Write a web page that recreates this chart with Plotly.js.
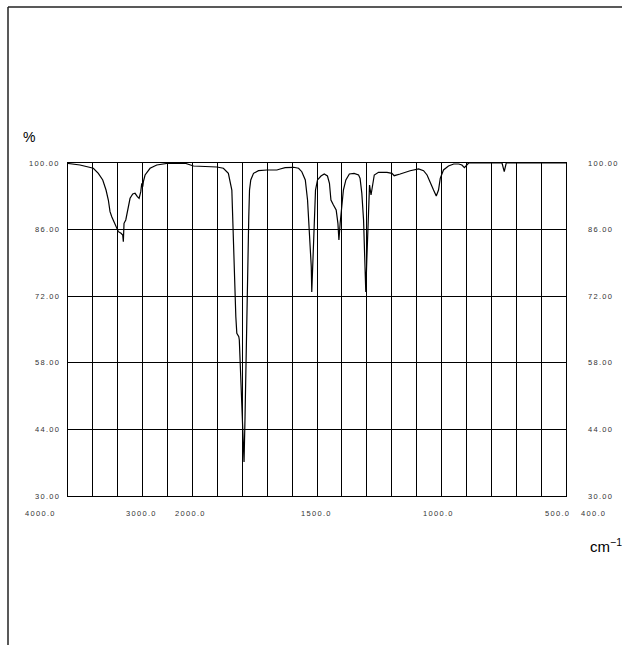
<!DOCTYPE html>
<html>
<head>
<meta charset="utf-8">
<script src="https://cdn.plot.ly/plotly-3.0.1.min.js"></script>
<style>html,body{margin:0;padding:0;background:#fff;}#chart{width:622px;height:645px;}</style>
</head>
<body>
<div id="chart"></div>
<script>
// Wavenumber (cm-1) and transmittance (%)
const wavenumber = [4000,3807,3593,3513,3442,3389,3352,3325,3297,3244,3191,3148,3121,3111,3100,3072,3040,3003,2960,2923,2886,2858,2831,2815,2799,2789,2762,2682,2574,2413,2119,1996,1949,1902,1876,1856,1842,1836,1832,1826,1822,1814,1812,1806,1798,1793,1789,1785,1779,1774,1771,1766,1755,1735,1701,1661,1648,1628,1594,1574,1561,1547,1538,1530,1523,1521,1517,1511,1506,1498,1484,1471,1458,1450,1444,1434,1423,1416,1412,1407,1400,1394,1384,1370,1351,1333,1327,1320,1313,1308,1304,1300,1293,1289,1283,1278,1270,1253,1219,1199,1190,1166,1126,1092,1072,1058,1045,1032,1021,1012,1005,992,972,951,931,918,908,900,891,757,748,740,500];
const transmittance = [99.9,99.58,98.89,97.83,96.43,94.32,92.22,89.76,88.71,86.97,85.56,85.22,84.86,83.46,87.32,88.02,90.12,92.58,93.48,93.63,92.92,92.58,93.97,95.73,95.02,96.07,97.48,98.89,99.58,99.9,99.95,99.37,99.26,99.16,98.89,97.83,94.32,85.22,74.71,67.69,64.2,63.49,62.79,53.69,43.18,37.15,46.67,60.69,78.2,88.71,94.32,96.43,97.83,98.38,98.53,98.53,98.74,99.01,99.1,98.89,98.17,96.43,92.22,85.22,78.2,72.88,78.2,88.71,94.32,96.43,97.27,97.69,97.27,95.73,92.22,91.17,90.12,87.32,83.81,87.32,91.53,94.32,96.43,97.69,97.83,97.48,96.78,93.63,88.02,79.61,72.88,79.61,91.53,95.38,93.27,95.38,97.48,98.04,98.04,97.83,97.33,97.69,98.38,98.74,98.38,97.48,96.07,94.32,93.06,94.32,96.78,98.53,99.37,99.79,99.79,99.58,99.01,99.58,100,100,98.17,100,100];

const xTickLabels = ["4000.0","3000.0","2000.0","1500.0","1000.0","500.0","400.0"];
const yTickValues = [30,44,58,72,86,100];
const yTickLabels = ["30.00","44.00","58.00","72.00","86.00","100.00"];

// Chart x scale: 4000-2000 cm-1 compressed (400 cm-1 per division), 2000-500 cm-1 at 100 cm-1 per division
function scaleX(w){ return w >= 2000 ? (4000 - w)/400 : 5 + (2000 - w)/100; }

const L=68, R=566, T=163, B=496, W=R-L, H=B-T;
const px = x => (x - L)/W;
const py = y => (B - y)/H;

const xLabelPx = [40,141,190,316,438,557,593];
const spaced = t => '<span style="letter-spacing:1.3px">' + t + '</span>';

const labelFont = {family:'Arial, "Liberation Sans", sans-serif', size:7.5, color:'#333'};
const annotations = [];
xTickLabels.forEach((t,i)=>annotations.push({xref:'paper',yref:'paper',x:px(xLabelPx[i]),y:py(513),text:spaced(t),showarrow:false,xanchor:'center',yanchor:'middle',font:labelFont}));
yTickValues.forEach((v,i)=>{
  const yp=(v-30)/70;
  annotations.push({xref:'paper',yref:'paper',x:px(62),y:yp,text:spaced(yTickLabels[i]),showarrow:false,xanchor:'right',yanchor:'middle',font:labelFont});
  annotations.push({xref:'paper',yref:'paper',x:px(586),y:yp,text:spaced(yTickLabels[i]),showarrow:false,xanchor:'left',yanchor:'middle',font:labelFont});
});
annotations.push({xref:'paper',yref:'paper',x:px(21),y:py(137),text:'%',showarrow:false,xanchor:'left',yanchor:'middle',font:{family:'Arial, "Liberation Sans", sans-serif',size:14,color:'#000'}});
annotations.push({xref:'paper',yref:'paper',x:px(588),y:py(545),text:'cm<sup>−1</sup>',showarrow:false,xanchor:'left',yanchor:'middle',font:{family:'Arial, "Liberation Sans", sans-serif',size:15,color:'#000'}});

const shapes = [
  {type:'line',xref:'paper',yref:'paper',x0:px(8),x1:px(622),y0:py(7),y1:py(7),line:{color:'#222',width:1.5}},
  {type:'line',xref:'paper',yref:'paper',x0:px(8),x1:px(8),y0:py(7),y1:py(645),line:{color:'#222',width:1.5}}
];

Plotly.newPlot('chart',[{
  x: wavenumber.map(scaleX),
  y: transmittance,
  type:'scatter', mode:'lines',
  line:{color:'#000',width:1.2},
  hoverinfo:'skip'
}],{
  width:622,height:645,
  margin:{l:L,r:622-R,t:T,b:645-B,pad:0},
  paper_bgcolor:'#fff',plot_bgcolor:'#fff',
  showlegend:false,
  xaxis:{range:[0,20],dtick:1,tick0:0,showgrid:true,gridcolor:'#000',gridwidth:1,showticklabels:false,ticks:'',zeroline:false,showline:true,mirror:true,linecolor:'#000',linewidth:1.2},
  yaxis:{range:[30,100],tickvals:yTickValues,showgrid:true,gridcolor:'#000',gridwidth:1,showticklabels:false,ticks:'',zeroline:false,showline:true,mirror:true,linecolor:'#000',linewidth:1.2},
  annotations:annotations,
  shapes:shapes
},{staticPlot:true,displayModeBar:false});
</script>
</body>
</html>
